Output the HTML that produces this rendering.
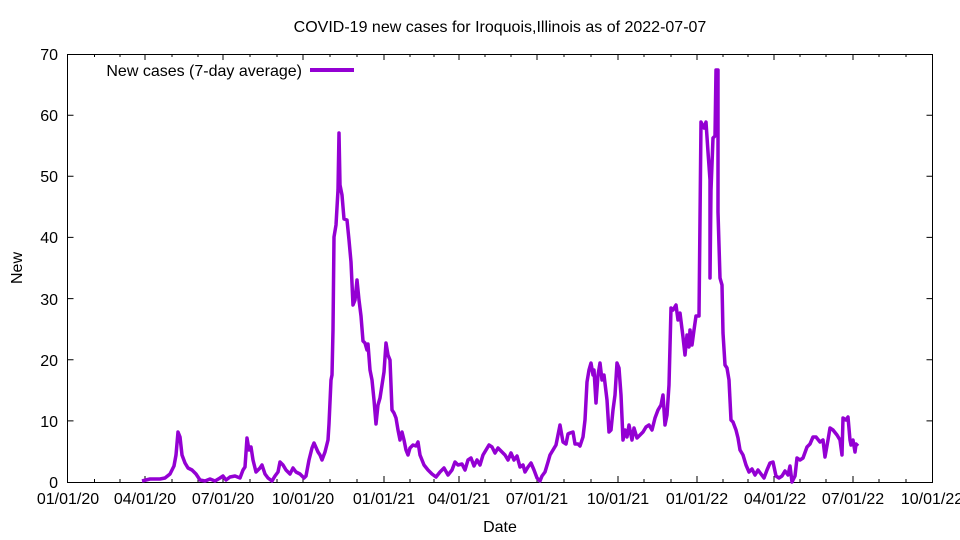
<!DOCTYPE html>
<html><head><style>body{margin:0;background:#fff}svg{display:block}text{font-family:"Liberation Sans",sans-serif;font-size:16px;fill:#000}</style></head><body>
<svg width="960" height="540" viewBox="0 0 960 540">
<rect x="67.5" y="54.5" width="865" height="428" fill="none" stroke="#000" stroke-width="1"/>
<g stroke="#000" stroke-width="1">
<path d="M67.5 482v-6M67.5 54v6M932.5 115.2h-6M67.5 115.2h6M932.5 176.3h-6M67.5 176.3h6M932.5 237.4h-6M67.5 237.4h6M932.5 298.6h-6M67.5 298.6h6M932.5 359.7h-6M67.5 359.7h6M932.5 420.9h-6M67.5 420.9h6"/>
<path d="M145 482v-6M145 54v6M223 482v-6M223 54v6M303 482v-6M303 54v6M384 482v-6M384 54v6M459 482v-6M459 54v6M537 482v-6M537 54v6M618 482v-6M618 54v6M697 482v-6M697 54v6M774 482v-6M774 54v6M853 482v-6M853 54v6"/>
<path d="M94.5 482v-3M120 482v-3M172 482v-3M198 482v-3M250 482v-3M277 482v-3M330 482v-3M357 482v-3M410 482v-3M434 482v-3M485 482v-3M511 482v-3M564 482v-3M591 482v-3M644 482v-3M671 482v-3M723 482v-3M748 482v-3M800 482v-3M826 482v-3M879 482v-3M906 482v-3"/>
<path d="M94.5 54v3M120 54v3M172 54v3M198 54v3M250 54v3M277 54v3M330 54v3M357 54v3M410 54v3M434 54v3M485 54v3M511 54v3M564 54v3M591 54v3M644 54v3M671 54v3M723 54v3M748 54v3M800 54v3M826 54v3M879 54v3M906 54v3"/>
</g>
<g text-anchor="end">
<text x="58" y="488">0</text><text x="58" y="427">10</text><text x="58" y="366">20</text><text x="58" y="305">30</text><text x="58" y="243">40</text><text x="58" y="182">50</text><text x="58" y="121">60</text><text x="58" y="60">70</text>
</g>
<g text-anchor="middle">
<text x="68" y="504">01/01/20</text><text x="145" y="504">04/01/20</text><text x="223" y="504">07/01/20</text><text x="303" y="504">10/01/20</text><text x="384" y="504">01/01/21</text><text x="459" y="504">04/01/21</text><text x="537" y="504">07/01/21</text><text x="618" y="504">10/01/21</text><text x="697" y="504">01/01/22</text><text x="775" y="504">04/01/22</text><text x="853" y="504">07/01/22</text><text x="932" y="504">10/01/22</text>
<text x="500" y="32">COVID-19 new cases for Iroquois,Illinois as of 2022-07-07</text>
<text x="500" y="532">Date</text>
<text transform="translate(22,268) rotate(-90)">New</text>
</g>
<text x="302" y="76" text-anchor="end">New cases (7-day average)</text>
<path d="M310 70H354" stroke="#9400d3" stroke-width="4"/>
<polyline fill="none" stroke="#9400d3" stroke-width="3.5" stroke-linejoin="round" points="142,481 150,479 160,479 165,478 170,474 174,466 176,455 178,432 180,437 182,455 185,463 188,468 192,470 196,474 200,480 205,481 210,479 215,481 220,478 223,476 226,480 230,477 235,476 240,478 243,470 245,467 247,438 249,450 251,447 253,460 256,472 260,468 262,465 265,474 268,478 272,481 275,476 278,472 280,462 283,465 286,470 290,474 293,468 296,472 300,474 304,478 306,476 309,460 312,448 314,443 318,452 320,455 322,460 325,452 328,440 329,424 331,380 332,375 333,330 334,237 336,225 338,190 339,133 340,185 342,195 344,219 347,220 349,240 351,262 353,305 355,300 357,280 359,300 361,316 363,341 365,343 367,350 368,344 370,370 372,380 374,400 376,424 378,405 380,398 382,385 384,372 386,343 388,355 390,360 392,410 394,413 396,418 398,430 400,440 402,432 404,440 406,450 408,455 410,448 413,445 416,446 418,442 420,455 424,465 428,470 432,474 436,477 440,472 444,468 448,475 452,470 455,462 458,465 462,464 465,470 468,460 471,458 474,466 477,460 480,465 483,455 486,450 489,445 492,447 495,453 498,448 502,452 505,455 508,460 511,453 514,460 517,456 520,467 523,465 525,472 528,467 531,463 534,470 537,478 540,481 542,476 545,472 548,462 550,455 553,450 556,445 558,435 560,425 563,442 566,444 568,434 570,433 573,432 575,444 578,444 580,446 583,437 585,420 587,382 589,370 591,363 593,375 594,370 596,403 598,375 600,363 602,380 604,375 607,400 609,432 611,430 613,410 615,395 617,363 619,368 621,395 623,440 625,430 627,437 629,425 632,440 634,428 637,438 640,435 643,432 646,427 649,425 652,430 655,418 658,410 661,405 663,395 665,425 667,415 669,385 671,308 673,310 676,305 678,320 680,313 683,337 685,355 687,335 689,347 690,330 692,345 694,330 696,316 699,316 701,122 704,128 706,122 708,152 710,180 710,278 711,190 713,138 715,136 716,70 718,70 718,212 720,278 722,285 723,333 725,365 727,368 729,380 731,420 733,422 736,430 738,438 740,450 743,455 746,465 749,472 752,469 755,475 758,470 761,474 764,478 767,470 770,463 773,462 776,476 779,478 782,476 785,471 788,475 790,466 792,482 795,476 797,458 800,460 803,458 807,447 810,444 813,437 816,437 820,442 823,440 825,457 828,440 830,428 833,430 837,435 840,440 842,455 843,418 846,420 848,417 850,440 851,445 853,440 855,452 856,444 858,446"/>
</svg>
</body></html>
